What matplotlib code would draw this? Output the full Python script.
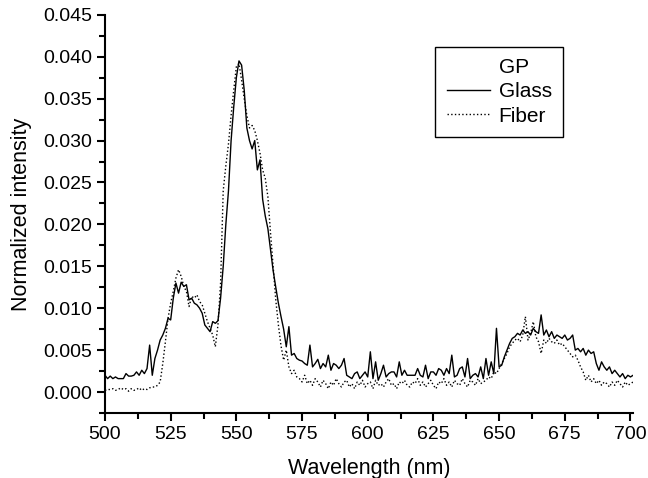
import numpy as np
import matplotlib
matplotlib.use("Agg")
import matplotlib.pyplot as plt
from matplotlib.ticker import MultipleLocator, FormatStrFormatter

plt.rcParams['font.family'] = ['Liberation Sans', 'DejaVu Sans']

# wavelength grid, 1 nm steps
wavelength = np.arange(500, 702)

glass = [
    0.0020, 0.0016, 0.0019, 0.0016, 0.0018, 0.0016, 0.0016, 0.0016, 0.0022, 0.0019,  # 500
    0.0019, 0.0020, 0.0024, 0.0020, 0.0026, 0.0022, 0.0028, 0.0056, 0.0020, 0.0040,  # 510
    0.0050, 0.0062, 0.0068, 0.0076, 0.0088, 0.0086, 0.0112, 0.0130, 0.0118, 0.0131,  # 520
    0.0126, 0.0128, 0.0110, 0.0112, 0.0106, 0.0104, 0.0100, 0.0094, 0.0080, 0.0076,  # 530
    0.0072, 0.0084, 0.0082, 0.0085, 0.0112, 0.0150, 0.0200, 0.0240, 0.0300, 0.0340,  # 540
    0.0375, 0.0395, 0.0390, 0.0360, 0.0315, 0.0300, 0.0290, 0.0300, 0.0265, 0.0277,  # 550
    0.0230, 0.0210, 0.0195, 0.0170, 0.0145, 0.0125, 0.0106, 0.0090, 0.0075, 0.0054,  # 560
    0.0078, 0.0044, 0.0046, 0.0040, 0.0038, 0.0037, 0.0034, 0.0032, 0.0056, 0.0030,  # 570
    0.0034, 0.0039, 0.0028, 0.0034, 0.0030, 0.0044, 0.0026, 0.0034, 0.0032, 0.0028,  # 580
    0.0032, 0.0040, 0.0020, 0.0018, 0.0016, 0.0022, 0.0024, 0.0016, 0.0020, 0.0024,  # 590
    0.0018, 0.0048, 0.0016, 0.0036, 0.0014, 0.0022, 0.0032, 0.0018, 0.0022, 0.0024,  # 600
    0.0024, 0.0018, 0.0036, 0.0020, 0.0026, 0.0020, 0.0020, 0.0020, 0.0020, 0.0028,  # 610
    0.0020, 0.0018, 0.0032, 0.0016, 0.0024, 0.0024, 0.0020, 0.0028, 0.0026, 0.0020,  # 620
    0.0028, 0.0022, 0.0044, 0.0018, 0.0020, 0.0028, 0.0030, 0.0018, 0.0040, 0.0016,  # 630
    0.0020, 0.0022, 0.0018, 0.0030, 0.0016, 0.0040, 0.0020, 0.0036, 0.0022, 0.0076,  # 640
    0.0030, 0.0032, 0.0042, 0.0050, 0.0058, 0.0064, 0.0066, 0.0070, 0.0068, 0.0074,  # 650
    0.0070, 0.0072, 0.0068, 0.0076, 0.0072, 0.0070, 0.0092, 0.0068, 0.0074, 0.0066,  # 660
    0.0072, 0.0064, 0.0068, 0.0066, 0.0064, 0.0068, 0.0062, 0.0064, 0.0068, 0.0050,  # 670
    0.0052, 0.0048, 0.0052, 0.0044, 0.0050, 0.0046, 0.0048, 0.0034, 0.0026, 0.0036,  # 680
    0.0030, 0.0026, 0.0030, 0.0022, 0.0026, 0.0022, 0.0018, 0.0022, 0.0016, 0.0020,  # 690
    0.0018, 0.0020,                                                                  # 700
]

fiber = [
    0.0002, 0.0003, 0.0003, 0.0004, 0.0002, 0.0003, 0.0005, 0.0003, 0.0004, 0.0001,  # 500
    0.0004, 0.0002, 0.0003, 0.0005, 0.0002, 0.0004, 0.0003, 0.0005, 0.0006, 0.0006,  # 510
    0.0008, 0.0012, 0.0034, 0.0060, 0.0088, 0.0106, 0.0120, 0.0136, 0.0146, 0.0138,  # 520
    0.0126, 0.0120, 0.0102, 0.0114, 0.0112, 0.0116, 0.0108, 0.0104, 0.0094, 0.0084,  # 530
    0.0076, 0.0068, 0.0054, 0.0080, 0.0130, 0.0240, 0.0270, 0.0296, 0.0330, 0.0360,  # 540
    0.0388, 0.0392, 0.0372, 0.0350, 0.0330, 0.0315, 0.0318, 0.0312, 0.0300, 0.0285,  # 550
    0.0265, 0.0255, 0.0233, 0.0190, 0.0150, 0.0110, 0.0080, 0.0055, 0.0038, 0.0050,  # 560
    0.0030, 0.0022, 0.0026, 0.0018, 0.0016, 0.0012, 0.0020, 0.0010, 0.0014, 0.0008,  # 570
    0.0016, 0.0012, 0.0006, 0.0014, 0.0010, 0.0004, 0.0012, 0.0008, 0.0016, 0.0010,  # 580
    0.0006, 0.0012, 0.0014, 0.0006, 0.0010, 0.0004, 0.0012, 0.0008, 0.0014, 0.0006,  # 590
    0.0010, 0.0012, 0.0004, 0.0014, 0.0008, 0.0010, 0.0006, 0.0012, 0.0016, 0.0008,  # 600
    0.0010, 0.0004, 0.0012, 0.0010, 0.0014, 0.0008, 0.0006, 0.0012, 0.0010, 0.0016,  # 610
    0.0008, 0.0012, 0.0006, 0.0010, 0.0014, 0.0008, 0.0004, 0.0012, 0.0010, 0.0016,  # 620
    0.0008, 0.0012, 0.0006, 0.0014, 0.0010, 0.0008, 0.0016, 0.0010, 0.0006, 0.0014,  # 630
    0.0012, 0.0008, 0.0016, 0.0010, 0.0012, 0.0014, 0.0018, 0.0016, 0.0024, 0.0022,  # 640
    0.0028, 0.0034, 0.0040, 0.0046, 0.0054, 0.0058, 0.0062, 0.0064, 0.0060, 0.0068,  # 650
    0.0090, 0.0062, 0.0070, 0.0084, 0.0066, 0.0060, 0.0046, 0.0062, 0.0058, 0.0064,  # 660
    0.0060, 0.0058, 0.0062, 0.0056, 0.0058, 0.0054, 0.0050, 0.0046, 0.0042, 0.0044,  # 670
    0.0038, 0.0030, 0.0024, 0.0014, 0.0020, 0.0012, 0.0016, 0.0010, 0.0014, 0.0008,  # 680
    0.0012, 0.0010, 0.0006, 0.0012, 0.0008, 0.0014, 0.0010, 0.0006, 0.0012, 0.0008,  # 690
    0.0010, 0.0012,                                                                  # 700
]

fig = plt.figure(figsize=(6.48, 4.78), dpi=100)
ax = fig.add_axes([0.162, 0.136, 0.815, 0.833])

ax.plot(wavelength, glass, color='black', lw=1.0, ls='-', label='Glass')
ax.plot(wavelength, fiber, color='black', lw=1.0, ls=':', label='Fiber')

ax.set_xlim(500, 701)
ax.set_ylim(-0.0025, 0.045)
ax.xaxis.set_major_locator(MultipleLocator(25))
ax.xaxis.set_minor_locator(MultipleLocator(12.5))
ax.yaxis.set_major_locator(MultipleLocator(0.005))
ax.yaxis.set_minor_locator(MultipleLocator(0.0025))
ax.yaxis.set_major_formatter(FormatStrFormatter('%.3f'))

for s in ['top', 'right']:
    ax.spines[s].set_visible(False)
for s in ['left', 'bottom']:
    ax.spines[s].set_linewidth(1.5)
ax.tick_params(which='major', direction='out', length=6, width=1.5, labelsize=14)
ax.tick_params(which='minor', direction='out', length=4, width=1.5)

ax.set_xlabel('Wavelength (nm)', fontsize=15.5, labelpad=11)
ax.set_ylabel('Normalized intensity', fontsize=15.5, labelpad=8)

leg = ax.legend(title='GP    ', loc='upper left', bbox_to_anchor=(0.625, 0.92),
                fontsize=15, title_fontsize=15, frameon=True, fancybox=False,
                edgecolor='black', framealpha=1, handlelength=2.1,
                handletextpad=0.4, borderpad=0.55, labelspacing=0.25,
                borderaxespad=0, alignment='right')
leg.get_frame().set_linewidth(1.0)

fig.savefig('out.png', dpi=100)
